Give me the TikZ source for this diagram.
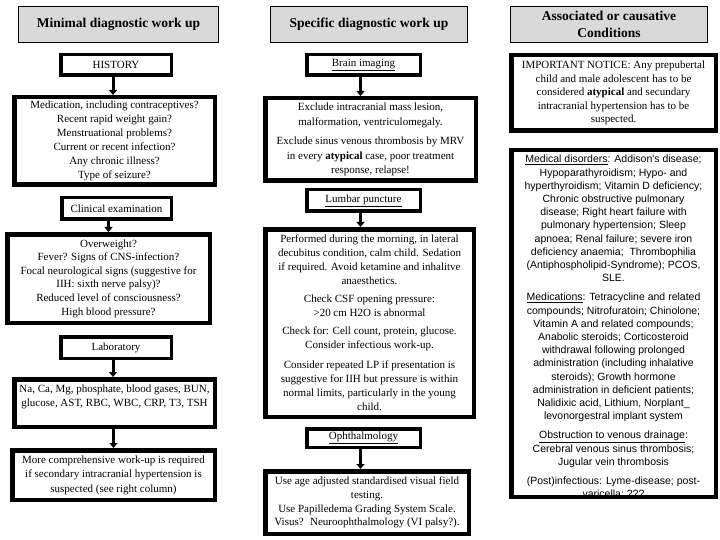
\documentclass[tikz,border=0pt]{standalone}
\usepackage{fontspec}
\setmainfont{Liberation Serif}
\newfontfamily\arialf{Liberation Sans}
\usetikzlibrary{arrows.meta}
\tikzset{
  hdr/.style={draw, line width=0.8pt, fill=black!15, inner sep=0pt, align=center,
    font=\bfseries\fontsize{13.5}{17}\selectfont},
  sbox/.style={draw, line width=3.5pt, inner sep=0pt, align=center,
    font=\fontsize{11}{14.5}\selectfont},
  bbox/.style={draw, line width=4.5pt, inner sep=0pt, align=center,
    font=\fontsize{11}{14.5}\selectfont},
  arr/.style={line width=3pt, -{Triangle[length=5pt,width=8pt]}},
}
\begin{document}
\begin{tikzpicture}[x=1pt,y=-1pt]
\useasboundingbox (0,0) rectangle (720,540);
\fill[white] (0,0) rectangle (720,540);
% ---------- column 1
\node[hdr, minimum width=200pt, minimum height=36pt] (h1) at (118.5,24.5) {Minimal diagnostic work up};
\node[sbox, minimum width=110.5pt, minimum height=20.5pt] (hist) at (116,65) {HISTORY};
\node[bbox, minimum width=200.5pt, minimum height=87.5pt, font=\fontsize{11}{14}\selectfont] (med) at (114.5,141)
  {Medication, including contraceptives?\\ Recent rapid weight gain?\\ Menstruational problems?\\ Current or recent infection?\\ Any chronic illness?\\ Type of seizure?};
\node[sbox, minimum width=109.5pt, minimum height=21.5pt] (clin) at (116.5,208.5) {Clinical examination};
\node[bbox, minimum width=202.5pt, minimum height=88.5pt, font=\fontsize{11}{13.6}\selectfont] (over) at (108.5,278.5)
  {Overweight?\\ Fever? Signs of CNS-infection?\\ Focal neurological signs (suggestive for\\ IIH: sixth nerve palsy)?\\ Reduced level of consciousness?\\ High blood pressure?};
\node[sbox, minimum width=110.5pt, minimum height=21.5pt] (lab) at (116,347.5) {Laboratory};
\node[bbox, minimum width=200.5pt, minimum height=47.5pt] (na) at (114.5,403)
  {Na, Ca, Mg, phosphate, blood gases, BUN,\\ glucose, AST, RBC, WBC, CRP, T3, TSH\\ \mbox{}};
\node[bbox, minimum width=202.5pt, minimum height=49.5pt] (more) at (113.5,475)
  {More comprehensive work-up is required\\ if secondary intracranial hypertension is\\ suspected (see right column)};
\draw[arr] ([xshift=-3pt]hist.south) -- ([xshift=-3pt]hist.south |- med.north);
\draw[arr] ([xshift=-8pt]clin.south) -- ([xshift=-8pt]clin.south |- over.north);
\draw[arr] ([xshift=-3pt]lab.south) -- ([xshift=-3pt]lab.south |- na.north);
\draw[arr] ([xshift=-1pt]na.south) -- ([xshift=-1pt]na.south |- more.north);
% ---------- column 2
\node[hdr, minimum width=197pt, minimum height=36pt] (h2) at (369,24.5) {Specific diagnostic work up};
\node[sbox, minimum width=113.5pt, minimum height=20.5pt] (brain) at (363.5,65) {\underline{Brain imaging}};
\node[bbox, minimum width=210.5pt, minimum height=82.5pt] (excl) at (370.5,139.5)
  {Exclude intracranial mass lesion,\\ malformation, ventriculomegaly.\\[5pt] Exclude sinus venous thrombosis by MRV\\ in every \textbf{atypical} case, poor treatment\\ response, relapse!};
\node[sbox, minimum width=113.5pt, minimum height=21.5pt] (lp) at (363.5,200.5) {\underline{Lumbar puncture}};
\node[bbox, minimum width=208.5pt, minimum height=187.5pt, font=\fontsize{11}{14}\selectfont] (perf) at (369.5,323)
  {Performed during the morning, in lateral\\ decubitus condition, calm child. Sedation\\ if required. Avoid ketamine and inhalitve\\ anaesthetics.\\[4pt] Check CSF opening pressure:\\ >20 cm H2O is abnormal\\[4pt] Check for: Cell count, protein, glucose.\\ Consider infectious work-up.\\[6pt] Consider repeated LP if presentation is\\ suggestive for IIH but pressure is within\\ normal limits, particularly in the young\\ child.};
\node[sbox, minimum width=113.5pt, minimum height=18.5pt] (oph) at (363.5,438) {\underline{Ophthalmology}};
\node[bbox, minimum width=203.5pt, minimum height=62.5pt, font=\fontsize{11}{13.7}\selectfont] (use) at (367,502.5)
  {Use age adjusted standardised visual field\\ testing.\\ Use Papilledema Grading System Scale.\\ Visus?~ Neuroophthalmology (VI palsy?).};
\draw[arr] ([xshift=-3pt]brain.south) -- ([xshift=-3pt]brain.south |- excl.north);
\draw[arr] ([xshift=-3pt]lp.south) -- ([xshift=-3pt]lp.south |- perf.north);
\draw[arr] ([xshift=-3pt]oph.south) -- ([xshift=-3pt]oph.south |- use.north);
% ---------- column 3
\node[hdr, minimum width=197pt, minimum height=36pt] (h3) at (609,24.5) {Associated or causative\\ Conditions};
\node[bbox, minimum width=204.5pt, minimum height=75.5pt, font=\fontsize{11}{13.5}\selectfont] (imp) at (613.5,93)
  {IMPORTANT NOTICE: Any prepubertal\\ child and male adolescent has to be\\ considered \textbf{atypical} and secundary\\ intracranial hypertension has to be\\ suspected.};
\node[anchor=north, inner sep=0pt, align=center, font=\arialf\fontsize{10.5}{13.2}\selectfont] (condt) at (613.5,155)
  {\underline{Medical disorders}: Addison's disease;\\
   Hypoparathyroidism; Hypo- and\\
   hyperthyroidism; Vitamin D deficiency;\\
   Chronic obstructive pulmonary\\
   disease; Right heart failure with\\
   pulmonary hypertension; Sleep\\
   apnoea; Renal failure; severe iron\\
   deficiency anaemia;~ Thrombophilia\\
   (Antiphospholipid-Syndrome); PCOS,\\
   SLE.\\[6pt]
   \underline{Medications}: Tetracycline and related\\
   compounds; Nitrofuratoin; Chinolone;\\
   Vitamin A and related compounds;\\
   Anabolic steroids; Corticosteroid\\
   withdrawal following prolonged\\
   administration (including inhalative\\
   steroids); Growth hormone\\
   administration in deficient patients;\\
   Nalidixic acid, Lithium, Norplant\_\\
   levonorgestral implant system\\[6pt]
   \underline{Obstruction to venous drainage}:\\
   Cerebral venous sinus thrombosis;\\
   Jugular vein thrombosis\\[6pt]
   (Post)infectious: Lyme-disease; post-\\
   varicella; ???};
\node[bbox, minimum width=204.5pt, minimum height=346.5pt] (cond) at (613.5,323.5) {};
\fill[white] (505,501.5) rectangle (720,540);
\end{tikzpicture}
\end{document}
